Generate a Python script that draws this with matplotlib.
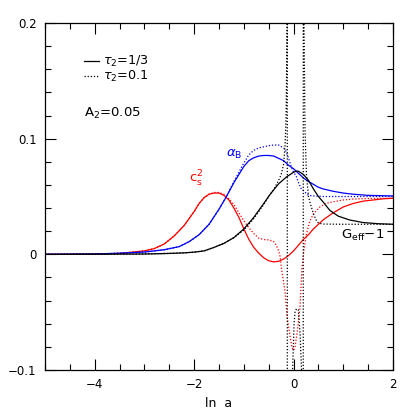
import matplotlib
matplotlib.use("Agg")
import matplotlib.pyplot as plt
from matplotlib.lines import Line2D
from matplotlib.ticker import MultipleLocator

plt.rcParams['font.family'] = ['DejaVu Sans']
plt.rcParams['mathtext.fontset'] = 'dejavusans'

# c_s^2, tau_2 = 1/3 (solid)
cs_x = [-5.0, -4.0, -3.5, -3.0, -2.8, -2.6, -2.4, -2.2, -2.0, -1.9, -1.8, -1.7, -1.6, -1.5,
        -1.4, -1.3, -1.2, -1.1, -1.0, -0.9, -0.8, -0.7, -0.6, -0.5, -0.4, -0.3, -0.2, -0.1,
        0.0, 0.1, 0.2, 0.3, 0.4, 0.5, 0.6, 0.8, 1.0, 1.2, 1.4, 1.6, 1.8, 2.0]
cs_y = [0.0, 0.0002, 0.0008, 0.003, 0.005, 0.009, 0.016, 0.025, 0.037, 0.044, 0.049, 0.052, 0.053, 0.053,
        0.051, 0.047, 0.040, 0.032, 0.022, 0.013, 0.006, 0.001, -0.003, -0.0055, -0.0065, -0.006, -0.004, -0.001,
        0.003, 0.008, 0.013, 0.017, 0.022, 0.026, 0.030, 0.036, 0.041, 0.044, 0.046, 0.047, 0.048, 0.0485]

# c_s^2, tau_2 = 0.1 (dotted)
cs_dot_x = [-5.0, -4.0, -3.5, -3.0, -2.8, -2.6, -2.4, -2.2, -2.0, -1.9, -1.8, -1.7, -1.6, -1.5,
            -1.4, -1.3, -1.2, -1.1, -1.0, -0.9, -0.8, -0.7, -0.6, -0.5, -0.4, -0.35, -0.3, -0.27,
            -0.24, -0.2, -0.17, -0.13, -0.07, -0.03, 0.0, 0.03, 0.08, 0.13, 0.17, 0.21, 0.26, 0.33,
            0.4, 0.53, 0.65, 0.8, 1.0, 1.2, 1.5, 2.0]
cs_dot_y = [0.0, 0.0002, 0.0008, 0.003, 0.005, 0.009, 0.016, 0.025, 0.037, 0.044, 0.049, 0.052, 0.0535, 0.0535,
            0.052, 0.048, 0.043, 0.036, 0.029, 0.023, 0.018, 0.014, 0.0128, 0.0125, 0.011, 0.008, 0.003, -0.002,
            -0.0135, -0.024, -0.033, -0.054, -0.071, -0.081, -0.083, -0.080, -0.065, -0.045, -0.011, 0.004, 0.018, 0.029,
            0.035, 0.041, 0.044, 0.0455, 0.047, 0.0478, 0.0483, 0.0485]

# alpha_B, tau_2 = 1/3
ab_x = [-5.0, -4.0, -3.5, -3.0, -2.6, -2.3, -2.1, -1.9, -1.7, -1.5, -1.35, -1.2, -1.1, -1.0, -0.9, -0.8,
        -0.7, -0.6, -0.5, -0.4, -0.3, -0.2, -0.1, 0.0, 0.1, 0.2, 0.3, 0.4, 0.5, 0.6, 0.8, 1.0, 1.2, 1.5, 2.0]
ab_y = [0.0, 0.0003, 0.001, 0.002, 0.004, 0.0067, 0.011, 0.017, 0.026, 0.039, 0.050, 0.062, 0.069, 0.076, 0.081, 0.0835,
        0.085, 0.0855, 0.0855, 0.085, 0.083, 0.081, 0.077, 0.074, 0.070, 0.066, 0.063, 0.0605, 0.058, 0.0565, 0.0545,
        0.053, 0.052, 0.051, 0.0505]

# alpha_B, tau_2 = 0.1
ab_dot_x = [-5.0, -4.0, -3.5, -3.0, -2.6, -2.3, -2.1, -1.9, -1.7, -1.5, -1.35, -1.2, -1.1, -1.0, -0.9, -0.8,
            -0.7, -0.6, -0.5, -0.4, -0.3, -0.2, -0.15, -0.1, -0.05, 0.0, 0.05, 0.1, 0.15, 0.2, 0.25, 0.3, 0.4,
            0.6, 2.0]
ab_dot_y = [0.0, 0.0003, 0.001, 0.002, 0.004, 0.0067, 0.011, 0.017, 0.026, 0.039, 0.050, 0.063, 0.071, 0.079, 0.086,
            0.090, 0.092, 0.093, 0.094, 0.0945, 0.0945, 0.092, 0.089, 0.083, 0.076, 0.071, 0.068, 0.062, 0.057,
            0.055, 0.053, 0.051, 0.0505, 0.050, 0.050]

# G_eff - 1, tau_2 = 1/3
g_x = [-5.0, -3.0, -2.5, -2.2, -2.0, -1.8, -1.6, -1.4, -1.2, -1.0, -0.8, -0.6, -0.47, -0.3, -0.14, 0.0,
       0.06, 0.1, 0.2, 0.3, 0.4, 0.5, 0.6, 0.73, 0.9, 1.13, 1.4, 1.7, 2.0]
g_y = [0.0, 0.0003, 0.0008, 0.0013, 0.0019, 0.003, 0.006, 0.0095, 0.0145, 0.022, 0.032, 0.044, 0.052, 0.061, 0.067,
       0.071, 0.072, 0.0718, 0.069, 0.064, 0.0565, 0.050, 0.045, 0.038, 0.033, 0.0297, 0.0275, 0.0265, 0.026]

# G_eff - 1, tau_2 = 0.1 (two poles)
g_dot_x = [-5.0, -3.0, -2.5, -2.2, -2.0, -1.8, -1.6, -1.4, -1.2, -1.0, -0.8, -0.6, -0.5, -0.4, -0.3, -0.25,
           -0.2, -0.17, -0.15, -0.13, -0.127, -0.125, -0.08, -0.02, 0.01, 0.03, 0.06, 0.095, 0.13, 0.16,
           0.18, 0.193, 0.197, 0.21, 0.23, 0.26, 0.3, 0.33, 0.4, 0.45, 0.5, 0.6, 1.0, 2.0]
g_dot_y = [0.0, 0.0003, 0.0008, 0.0013, 0.0019, 0.003, 0.006, 0.0095, 0.0145, 0.021, 0.031, 0.043, 0.050, 0.056,
           0.064, 0.069, 0.078, 0.095, 0.12, 0.2, 1.0, -1.0, -0.3, -0.1, -0.06, -0.0495, -0.047, -0.048, -0.068, -0.1,
           -0.2, -1.0, 1.0, 0.2, 0.107, 0.068, 0.05, 0.045, 0.035, 0.03, 0.027, 0.0262, 0.026, 0.026]

x_ticks = [-4, -2, 0, 2]
y_ticks = [-0.1, 0, 0.1, 0.2]
y_tick_labels = ['\u22120.1', '0', '0.1', '0.2']
x_tick_labels = ['\u22124', '\u22122', '0', '2']

dots = (0, (1, 1.5))

fig = plt.figure(figsize=(4.15, 4.15), dpi=100)
ax = fig.add_axes([0.1084, 0.1084, 0.8386, 0.8361])

ax.plot(cs_x, cs_y, color='red', lw=0.9)
ax.plot(cs_dot_x, cs_dot_y, color='red', lw=0.9, ls=dots)
ax.plot(ab_x, ab_y, color='blue', lw=0.9)
ax.plot(ab_dot_x, ab_dot_y, color='blue', lw=0.9, ls=dots)
ax.plot(g_x, g_y, color='black', lw=0.9)
ax.plot(g_dot_x, g_dot_y, color='black', lw=0.9, ls=dots)

ax.set_xlim(-5, 2)
ax.set_ylim(-0.1, 0.2)
ax.set_xticks(x_ticks)
ax.set_xticklabels(x_tick_labels)
ax.set_yticks(y_ticks)
ax.set_yticklabels(y_tick_labels)
ax.xaxis.set_minor_locator(MultipleLocator(0.5))
ax.yaxis.set_minor_locator(MultipleLocator(0.02))
ax.tick_params(which='both', direction='in', top=True, right=True, labelsize=8.5, width=0.8)
ax.tick_params(which='major', length=8, pad=6)
ax.tick_params(which='minor', length=4)
for s in ax.spines.values():
    s.set_linewidth(0.9)
ax.set_xlabel('ln  a', fontsize=9, labelpad=4)

handles = [Line2D([], [], color='black', lw=0.9),
           Line2D([], [], color='black', lw=0.9, ls=dots)]
ax.legend(handles, [r'$\tau_2$=1/3', r'$\tau_2$=0.1'], loc='upper left', bbox_to_anchor=(0.112, 0.91),
          frameon=False, handlelength=1.2, handletextpad=0.3, labelspacing=0.0, fontsize=9.2,
          borderpad=0, borderaxespad=0)
ax.text(0.112, 0.74, r'A$_2$=0.05', transform=ax.transAxes, fontsize=9.5, va='center')

ax.text(-1.2, 0.081, r'$\alpha_{\rm B}$', color='blue', fontsize=9.5, ha='center', va='bottom')
ax.text(-1.95, 0.065, r'c$_{\rm s}^2$', color='red', fontsize=9.5, ha='center', va='center')
ax.text(1.38, 0.016, r'G$_{\rm eff}$$-$1', color='black', fontsize=9.5, ha='center', va='center')

fig.savefig('out.png', dpi=100)
